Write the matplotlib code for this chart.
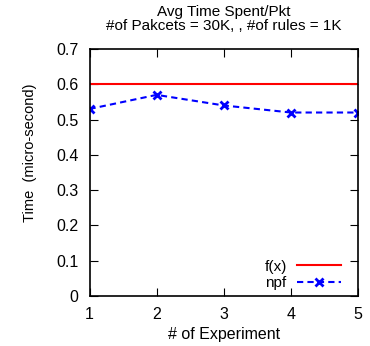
import matplotlib
matplotlib.use("Agg")
import matplotlib.pyplot as plt

experiments = [1, 2, 3, 4, 5]
npf = [0.53, 0.57, 0.54, 0.52, 0.52]
fx_value = 0.6
yticks = [0, 0.1, 0.2, 0.3, 0.4, 0.5, 0.6, 0.7]
ytick_labels = ['0', '0.1', '0.2', '0.3', '0.4', '0.5', '0.6', '0.7']

plt.rcParams['font.family'] = ['Liberation Sans', 'DejaVu Sans']
W, H = 370, 346
fig = plt.figure(figsize=(W / 100, H / 100), dpi=100)
ax = fig.add_axes([89.5 / W, 1 - 296 / H, (358 - 89.5) / W, (296 - 49) / H])

ax.plot([1, 5], [fx_value, fx_value], color='#ff0000', lw=1.5, label='f(x)')
ax.plot(experiments, npf, color='#0000ff', lw=1.5, ls=(0, (3, 2)), marker='x',
        markersize=6, markeredgewidth=2, label='npf')

ax.set_xlim(1, 5)
ax.set_ylim(0, 0.7)
ax.set_xticks(experiments)
ax.set_yticks(yticks)
ax.set_yticklabels(ytick_labels)
ax.tick_params(direction='in', top=True, right=True, length=6, labelsize=11.5, pad=8)
for s in ax.spines.values():
    s.set_linewidth(1.2)

ax.set_xlabel('# of Experiment', fontsize=11.5)
ax.xaxis.set_label_coords(0.5, -(334 - 296) / (296 - 49), transform=ax.transAxes)
ax.xaxis.label.set_va('center')
ax.set_ylabel('Time  (micro-second)', fontsize=10.5)
ax.yaxis.set_label_coords((30 - 89.5) / (358 - 89.5), (296 - 153) / (296 - 49), transform=ax.transAxes)
ax.yaxis.label.set_va('center')

fig.text(224 / W, 1 - 12 / H, 'Avg Time Spent/Pkt', ha='center', va='center', fontsize=11)
fig.text(224 / W, 1 - 26 / H, '#of Pakcets = 30K, , #of rules = 1K', ha='center', va='center', fontsize=11)

leg = ax.legend(loc='lower right', frameon=False, markerfirst=False, fontsize=11,
                handlelength=2.9, borderaxespad=0.0, borderpad=0.0, labelspacing=0.15,
                handletextpad=0.65,
                bbox_to_anchor=(341 / W, 1 - 290 / H), bbox_transform=fig.transFigure)
for t in leg.get_texts():
    t.set_ha('right')

fig.savefig('out.png', dpi=100)
